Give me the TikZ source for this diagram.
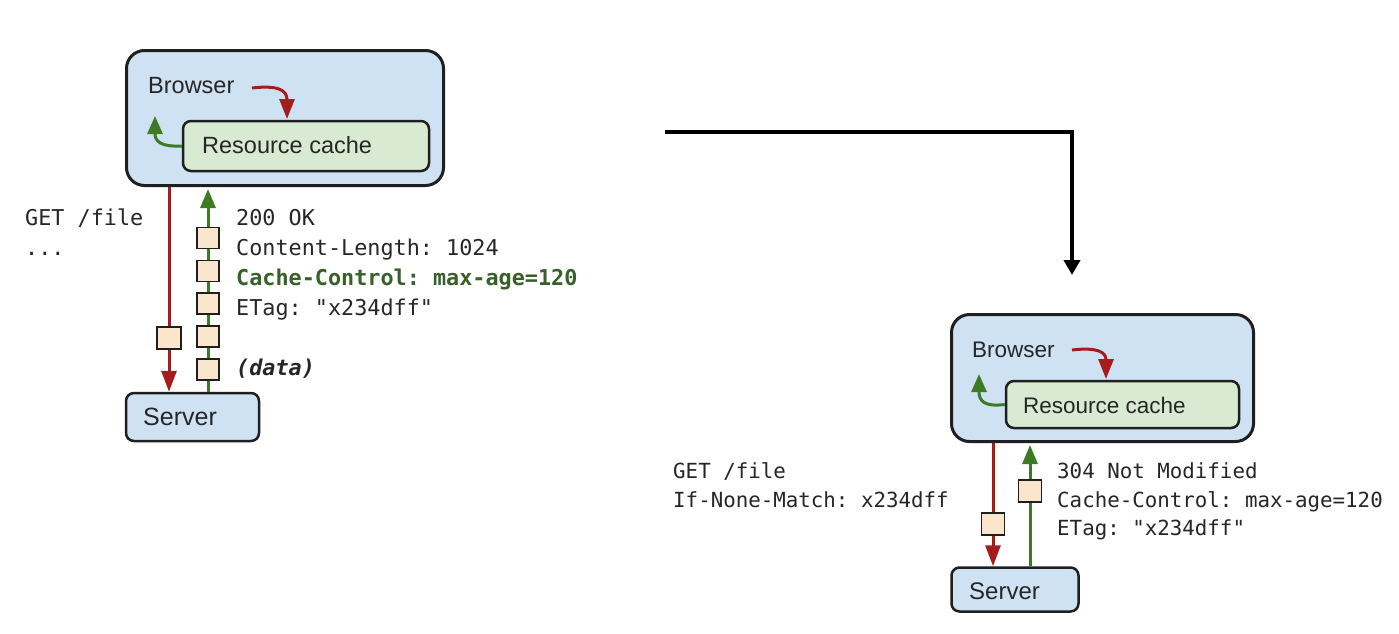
\documentclass[tikz,border=0pt]{standalone}
\usepackage{fontspec}
\setmainfont{Liberation Sans}
\setmonofont{DejaVu Sans Mono}
\usetikzlibrary{arrows.meta}
\definecolor{bfill}{HTML}{CFE2F3}
\definecolor{gfill}{HTML}{D9EAD3}
\definecolor{pfill}{HTML}{FCE5CD}
\definecolor{rline}{HTML}{A61C1C}
\definecolor{gline}{HTML}{3D7A24}
\definecolor{gtext}{HTML}{38612A}
\definecolor{edge}{HTML}{1F1F1F}
\definecolor{txt}{HTML}{262626}
\tikzset{
  browserbox/.style={draw=edge, line width=3pt, fill=bfill, rounded corners=18pt, inner sep=0pt},
  cachebox/.style={draw=edge, line width=2.5pt, fill=gfill, rounded corners=8pt, inner sep=0pt},
  serverbox/.style={draw=edge, line width=2.5pt, fill=bfill, rounded corners=8pt, inner sep=0pt},
  packet/.style={draw=edge, line width=1.8pt, fill=pfill, inner sep=0pt, minimum width=22pt, minimum height=21pt},
  lbl/.style={anchor=base west, inner sep=0pt, text=txt},
  sansL/.style={lbl, font=\fontsize{23.5}{28}\selectfont},
  sansR/.style={lbl, font=\fontsize{22.5}{27}\selectfont},
  monoL/.style={lbl, font=\fontsize{21.8}{26}\selectfont\ttfamily},
  monoR/.style={lbl, font=\fontsize{20.8}{25}\selectfont\ttfamily},
  redflow/.style={draw=rline, line width=3pt, -{Triangle[width=15pt,length=21pt]}},
  greenflow/.style={draw=gline, line width=3pt, -{Triangle[width=15pt,length=19pt]}},
  redcurve/.style={draw=rline, line width=3pt, -{Triangle[width=15pt,length=20pt]}},
  greencurve/.style={draw=gline, line width=3pt, -{Triangle[width=15pt,length=18pt]}},
  flowarrow/.style={draw=black, line width=4pt, -{Triangle[width=16pt,length=15pt]}}
}
\begin{document}
\begin{tikzpicture}[x=1pt,y=-1pt]
\useasboundingbox[fill=white] (0,0) rectangle (1399,633);

% ---------------- left diagram ----------------
\node[browserbox, minimum width=317pt, minimum height=135pt] (bL) at (285,118) {};
\node[cachebox, minimum width=246pt, minimum height=50pt] (cL) at (306,146) {};
\node[sansL] (tbL) at (148,93) {Browser};
\node[sansL] (tcL) at (202,153) {Resource cache};
\node[serverbox, minimum width=133pt, minimum height=48pt] (sL) at (192.5,417) {};
\node[lbl, font=\fontsize{25}{30}\selectfont] (tsL) at (143,425) {Server};

\coordinate (rxL) at (169,0);
\coordinate (gxL) at (208,0);
\draw[redflow] (rxL |- bL.south) -- (rxL |- sL.north);
\draw[greenflow, shorten >=2pt] (gxL |- sL.north) -- (gxL |- bL.south);

\coordinate (rcsL) at (252,88);
\coordinate (rceL) at (287,119);
\draw[redcurve] (rcsL) .. controls (278,85) and (287,90) .. (rceL);
\draw[greencurve] (cL.west) .. controls (160,147) and (155,141) .. (155,116) coordinate (gceL);

\node[packet, minimum width=24pt, minimum height=22pt] (pr1) at (169,338) {};
\node[packet] (pg1) at (208,238) {};
\node[packet] (pg2) at (208,271) {};
\node[packet] (pg3) at (208,303.5) {};
\node[packet] (pg4) at (208,336.5) {};
\node[packet] (pg5) at (208,369.5) {};

\node[monoL] (reqL1) at (25,225) {GET /file};
\node[monoL] (reqL2) at (25,255) {...};
\node[monoL] (resL1) at (236,225) {200 OK};
\node[monoL] (resL2) at (236,255) {Content-Length: 1024};
\node[monoL, text=gtext, font=\fontsize{21.8}{26}\selectfont\ttfamily\bfseries] (resL3) at (236,285) {Cache-Control: max-age=120};
\node[monoL] (resL4) at (236,315) {ETag: "x234dff"};
\node[monoL, font=\fontsize{21.8}{26}\selectfont\ttfamily\bfseries\itshape] (resL5) at (236,375) {(data)};

% ---------------- connector ----------------
\coordinate (cs) at (665,132);
\coordinate (ce) at (1072,275);
\draw[flowarrow] (cs) -| (ce);

% ---------------- right diagram ----------------
\node[browserbox, minimum width=302pt, minimum height=127pt] (bR) at (1102.5,378) {};
\node[cachebox, minimum width=233pt, minimum height=47pt] (cR) at (1122.5,404.5) {};
\node[sansR] (tbR) at (972,357) {Browser};
\node[sansR] (tcR) at (1023,413) {Resource cache};
\node[serverbox, minimum width=127pt, minimum height=44pt] (sR) at (1015,589.5) {};
\node[lbl, font=\fontsize{24}{29}\selectfont] (tsR) at (969,599) {Server};

\coordinate (rxR) at (993,0);
\coordinate (gxR) at (1030,0);
\draw[redflow] (rxR |- bR.south) -- (rxR |- sR.north);
\draw[greenflow, shorten >=2pt] (gxR |- sR.north) -- (gxR |- bR.south);

\coordinate (rcsR) at (1072,350);
\coordinate (rceR) at (1106,379);
\draw[redcurve] (rcsR) .. controls (1097,347) and (1106,352) .. (rceR);
\draw[greencurve] (cR.west) .. controls (984,407) and (979,401) .. (979,374) coordinate (gceR);

\node[packet, minimum width=23pt, minimum height=22pt] (prR) at (993,524) {};
\node[packet, minimum width=23pt, minimum height=22pt] (pgR) at (1030,491) {};

\node[monoR] (reqR1) at (673,478) {GET /file};
\node[monoR] (reqR2) at (673,507) {If-None-Match: x234dff};
\node[monoR] (resR1) at (1057,478) {304 Not Modified};
\node[monoR] (resR2) at (1057,507) {Cache-Control: max-age=120};
\node[monoR] (resR3) at (1057,535) {ETag: "x234dff"};
\end{tikzpicture}
\end{document}
